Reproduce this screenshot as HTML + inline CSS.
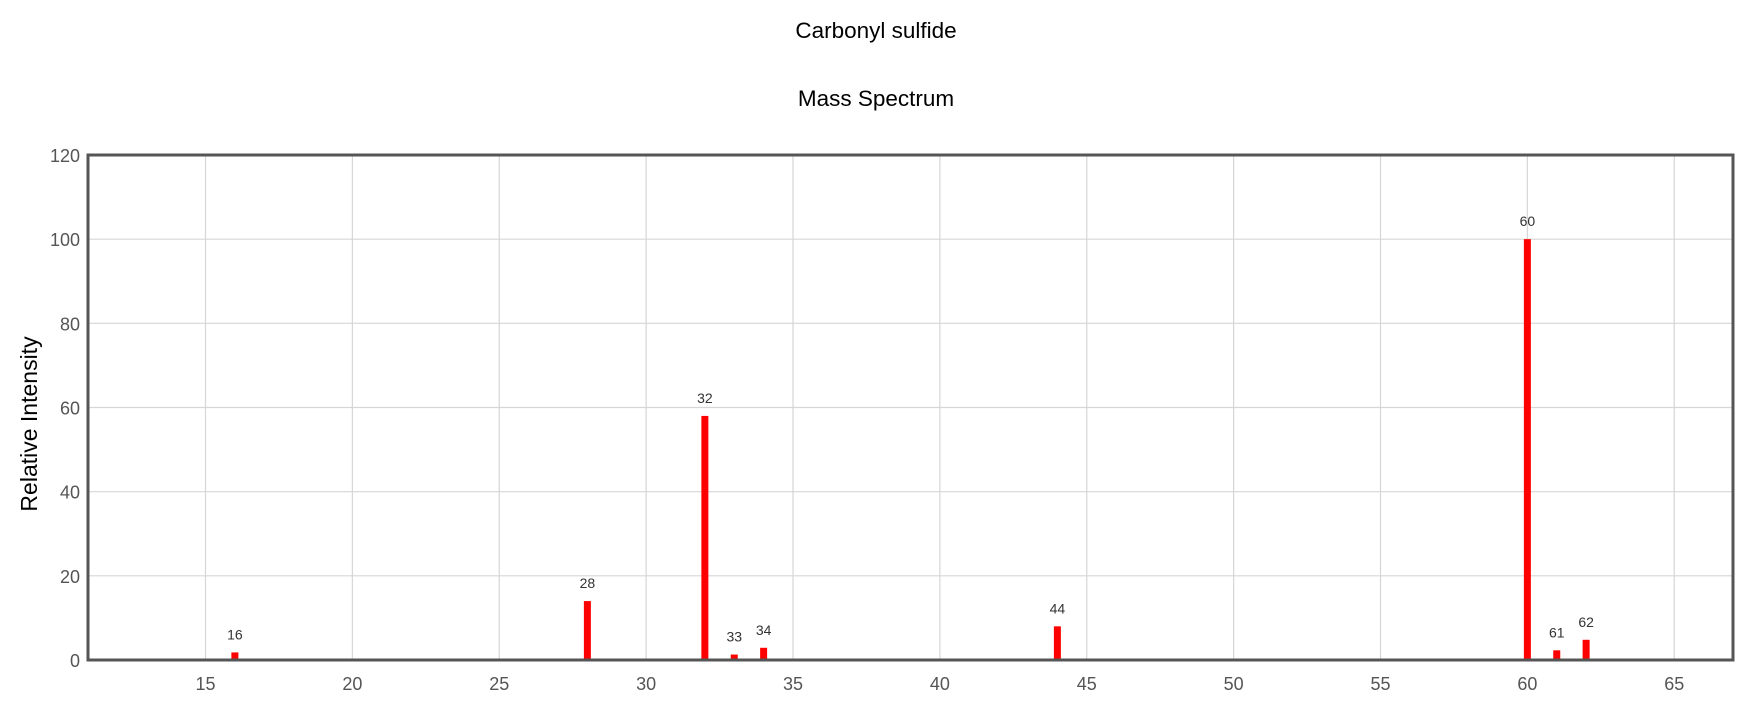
<!DOCTYPE html>
<html><head><meta charset="utf-8"><style>
html,body{margin:0;padding:0;background:#fff;width:1754px;height:714px;overflow:hidden}
svg{display:block}
</style></head><body>
<svg id="chart" width="1754" height="714" xmlns="http://www.w3.org/2000/svg" font-family="'Liberation Sans', sans-serif">
<text x="876" y="38" text-anchor="middle" font-size="22.5" fill="#000">Carbonyl sulfide</text>
<text x="876" y="106" text-anchor="middle" font-size="22.5" fill="#000">Mass Spectrum</text>
<text transform="translate(37,424) rotate(-90)" text-anchor="middle" font-size="23" fill="#000">Relative Intensity</text>
<text x="920" y="740" text-anchor="middle" font-size="21" fill="#000">m/z</text>
<g id="grid"></g><g id="bars"></g><g id="labels"></g><g id="ticks"></g>
<rect x="88" y="155" width="1645" height="505" fill="none" stroke="#555" stroke-width="3"/>
</svg>
<script>
const mz = [16, 28, 32, 33, 34, 44, 60, 61, 62];
const intensity = [1.8, 14, 58, 1.3, 2.9, 8, 100, 2.3, 4.8];
const xTicks = [15, 20, 25, 30, 35, 40, 45, 50, 55, 60, 65];
const yTicks = [0, 20, 40, 60, 80, 100, 120];
const L=88,R=1733,T=155,B=660,X0=11,X1=67,Y0=0,Y1=120;
const NS='http://www.w3.org/2000/svg';
const xs=v=>L+(v-X0)/(X1-X0)*(R-L);
const ys=v=>B-(v-Y0)/(Y1-Y0)*(B-T);
function mk(tag,attrs,parent,txt){const e=document.createElementNS(NS,tag);for(const k in attrs)e.setAttribute(k,attrs[k]);if(txt!==undefined)e.textContent=txt;document.getElementById(parent).appendChild(e);return e;}
xTicks.forEach(t=>{
  const g=mk('line',{x1:xs(t),x2:xs(t),y1:T,y2:B,stroke:'#d6d6d6','stroke-width':1.2},'grid');
  
  
  const l=mk('text',{x:xs(t),y:B+30,'text-anchor':'middle','font-size':18,fill:'#555'},'ticks',t);
  
  
});
yTicks.forEach(t=>{
  if(t>0&&t<120){const g=mk('line',{x1:L,x2:R,y1:ys(t),y2:ys(t),stroke:'#d6d6d6','stroke-width':1.2},'grid');
  
  }
  const l=mk('text',{x:L-8,y:ys(t)+7,'text-anchor':'end','font-size':18,fill:'#555'},'ticks',t);
  
  
});
mz.forEach((m,i)=>{
  const v=intensity[i];
  const b=mk('rect',{x:xs(m)-3.5,y:ys(v),width:7,height:B-ys(v),fill:'#ff0000'},'bars');
  
  
  const l=mk('text',{x:xs(m),y:ys(v)-13,'text-anchor':'middle','font-size':14,fill:'#333'},'labels',m);
  
  
});
</script>
</body></html>
